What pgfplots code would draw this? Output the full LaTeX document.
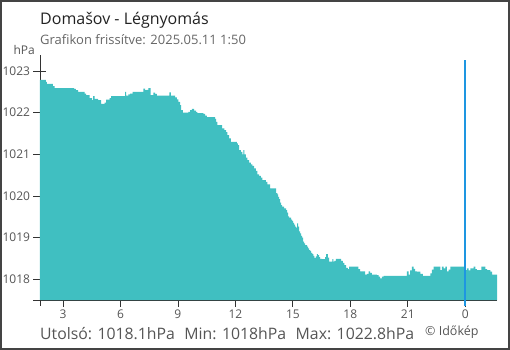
\documentclass[border=0pt]{standalone}
\usepackage{pgfplots}
\pgfplotsset{compat=1.18}
\usepackage{fontspec}
\setmainfont{Open Sans}
\definecolor{fillc}{RGB}{64,191,193}
\definecolor{vline}{HTML}{1E96E1}
\definecolor{axc}{RGB}{51,51,51}
\definecolor{txt}{RGB}{85,85,85}
\definecolor{frm}{RGB}{68,68,68}
\begin{document}
\begin{tikzpicture}
\useasboundingbox (-40bp,-50bp) rectangle (470bp,300bp);
\begin{axis}[
  at={(0,0)}, anchor=south west,
  scale only axis, width=457bp, height=245bp,
  xmin=1.80, xmax=25.656, ymin=1017.5, ymax=1023.385,
  axis x line*=bottom, axis y line*=left,
  axis line style={axc, line width=0.8bp, -},
  xtick={3,6,9,12,15,18,21,24},
  xticklabels={3,6,9,12,15,18,21,0},
  ytick={1018,1019,1020,1021,1022,1023},
  tick align=center, major tick length=13bp,
  tick style={axc, line width=0.8bp},
  /pgf/number format/assume math mode=true,
  /pgf/number format/1000 sep={},
  ticklabel style={font=\fontsize{12bp}{14bp}\selectfont, text=txt},
  clip=false,
]
\addplot[fill=fillc, draw=none, const plot mark left, forget plot] coordinates {
(1.800,1022.79) (2.112,1022.74) (2.164,1022.69) (2.478,1022.64) (2.566,1022.59)
(3.575,1022.57) (3.679,1022.54) (3.784,1022.50) (4.134,1022.46) (4.202,1022.42)
(4.395,1022.35) (4.515,1022.30) (4.567,1022.40) (4.656,1022.33) (4.828,1022.30)
(4.985,1022.21) (5.178,1022.24) (5.246,1022.31) (5.440,1022.35) (5.507,1022.40)
(6.239,1022.50) (6.291,1022.41) (6.411,1022.44) (6.500,1022.46) (6.641,1022.50)
(7.195,1022.58) (7.284,1022.54) (7.372,1022.55) (7.456,1022.59) (7.581,1022.42)
(7.717,1022.48) (7.806,1022.45) (7.895,1022.41) (8.553,1022.49) (8.626,1022.41)
(8.851,1022.37) (8.940,1022.32) (9.023,1022.26) (9.112,1022.18) (9.164,1022.06)
(9.253,1022.00) (9.546,1022.02) (9.634,1022.06) (9.723,1022.09) (9.843,1022.05)
(9.948,1022.01) (10.016,1021.99) (10.329,1021.97) (10.418,1021.93) (10.507,1021.89)
(10.941,1021.85) (10.993,1021.78) (11.061,1021.70) (11.306,1021.62) (11.426,1021.58)
(11.515,1021.53) (11.583,1021.46) (11.672,1021.38) (11.761,1021.30) (12.074,1021.26)
(12.127,1021.22) (12.194,1021.10) (12.283,1021.06) (12.367,1021.00) (12.419,1021.10)
(12.471,1021.00) (12.544,1020.92) (12.628,1020.86) (12.717,1020.80) (12.805,1020.76)
(12.889,1020.72) (12.978,1020.66) (13.067,1020.60) (13.150,1020.52) (13.239,1020.48)
(13.328,1020.44) (13.411,1020.38) (13.589,1020.34) (13.673,1020.28) (13.814,1020.18)
(14.127,1020.07) (14.195,1020.04) (14.232,1019.98) (14.284,1019.92) (14.336,1019.84)
(14.389,1019.78) (14.441,1019.74) (14.546,1019.70) (14.650,1019.66) (14.702,1019.60)
(14.755,1019.51) (14.807,1019.48) (14.912,1019.43) (14.964,1019.40) (15.016,1019.35)
(15.068,1019.31) (15.121,1019.26) (15.173,1019.24) (15.225,1019.34) (15.277,1019.26)
(15.329,1019.15) (15.381,1019.10) (15.433,1019.04) (15.485,1019.00) (15.538,1018.90)
(15.590,1018.86) (15.642,1018.82) (15.746,1018.78) (15.799,1018.74) (15.851,1018.70)
(15.903,1018.68) (15.955,1018.63) (16.023,1018.60) (16.075,1018.56) (16.127,1018.51)
(16.201,1018.55) (16.253,1018.60) (16.305,1018.58) (16.373,1018.53) (16.425,1018.49)
(16.514,1018.48) (16.687,1018.53) (16.739,1018.60) (16.828,1018.52) (16.896,1018.42)
(17.068,1018.48) (17.120,1018.42) (17.172,1018.44) (17.245,1018.49) (17.522,1018.44)
(17.611,1018.39) (17.695,1018.34) (17.784,1018.27) (17.873,1018.24) (17.940,1018.30)
(18.426,1018.24) (18.515,1018.19) (18.776,1018.11) (18.865,1018.13) (18.949,1018.19)
(19.038,1018.15) (19.126,1018.11) (19.388,1018.10) (19.471,1018.06) (19.560,1018.02)
(19.649,1018.06) (19.732,1018.08) (20.955,1018.19) (21.038,1018.11) (21.127,1018.21)
(21.216,1018.30) (21.300,1018.25) (21.388,1018.19) (21.477,1018.18) (21.650,1018.13)
(21.791,1018.08) (22.172,1018.14) (22.261,1018.23) (22.344,1018.30) (22.694,1018.22)
(22.783,1018.30) (22.866,1018.26) (22.955,1018.30) (23.044,1018.19) (23.127,1018.23)
(23.216,1018.30) (24.000,1018.22) (24.089,1018.26) (24.172,1018.21) (24.261,1018.26)
(24.434,1018.30) (24.523,1018.24) (24.611,1018.22) (24.836,1018.30) (25.045,1018.24)
(25.134,1018.22) (25.306,1018.18) (25.395,1018.11) (25.656,1018.11)
} \closedcycle;
\end{axis}
\draw[vline, line width=1.5bp] (425bp,-6bp) -- (425bp,240bp);
\draw[axc, line width=0.8bp] (0bp,0bp) -- (0bp,-6bp);
\draw[axc, line width=0.8bp] (0bp,0bp) -- (-7bp,0bp);
\node[anchor=base west, inner sep=0pt, text={rgb,255:red,34;green,34;blue,34}, font=\fontsize{16bp}{18bp}\selectfont] at (0bp,275bp) {Domašov - Légnyomás};
\node[anchor=base west, inner sep=0pt, text={rgb,255:red,102;green,102;blue,102}, font=\fontsize{13bp}{15bp}\selectfont] at (0bp,255bp) {Grafikon frissítve: 2025.05.11 1:50};
\node[anchor=base east, inner sep=0pt, text=txt, font=\fontsize{12bp}{14bp}\selectfont] at (-5bp,245bp) {hPa};
\node[anchor=base west, inner sep=0pt, text=txt, font=\fontsize{15.8bp}{18bp}\selectfont] at (0bp,-39bp) {Utolsó: 1018.1hPa\hspace{0.6em}Min: 1018hPa\hspace{0.6em}Max: 1022.8hPa};
\node[anchor=base west, inner sep=0pt, text=txt, font=\fontsize{12.5bp}{14bp}\selectfont] at (385bp,-35bp) {© Időkép};
\draw[frm, line width=2bp] (-39bp,-49bp) rectangle (469bp,299bp);
\end{tikzpicture}
\end{document}
